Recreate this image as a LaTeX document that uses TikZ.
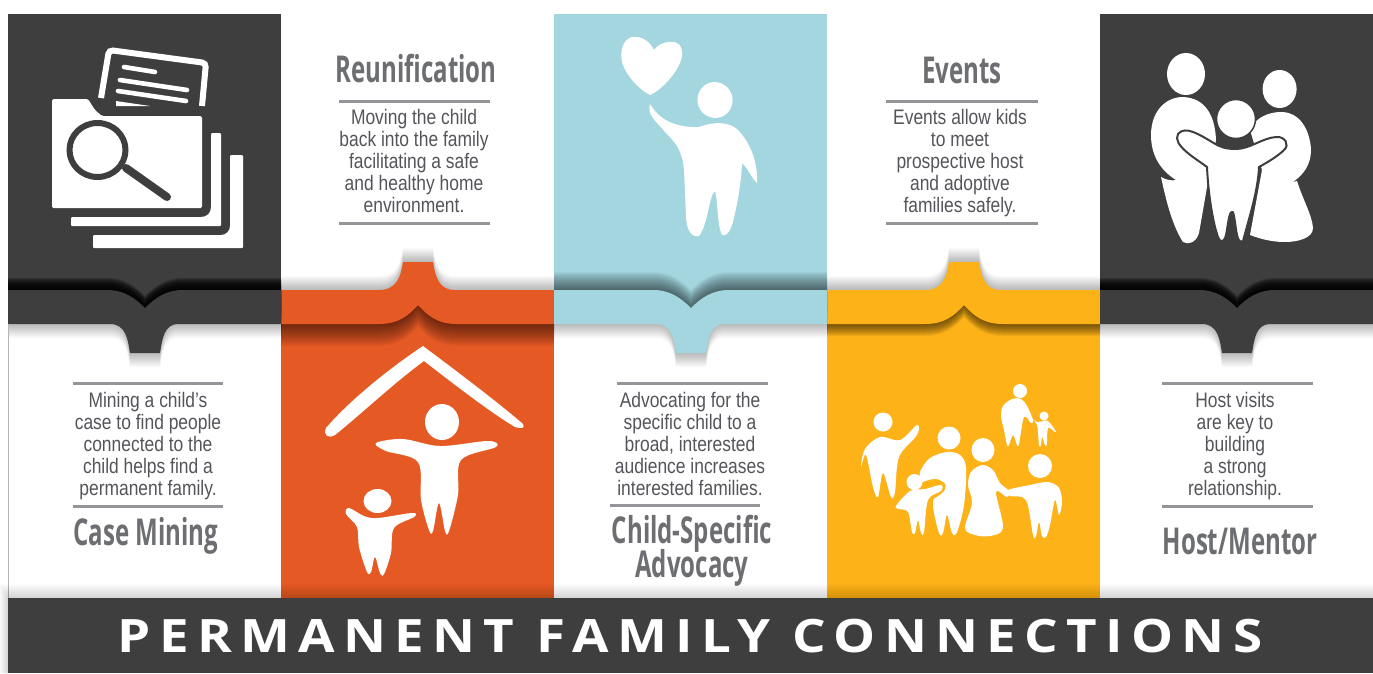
\documentclass[tikz,border=0pt]{standalone}
\usepackage{fontspec}
\setmainfont{Liberation Sans}
\newfontfamily\headfont[FakeStretch=0.65]{Open Sans}
\newfontfamily\bodyfont[FakeStretch=0.83]{Liberation Sans}
\newfontfamily\titlefont[LetterSpace=18,FakeStretch=1.15]{Open Sans}
\definecolor{darkc}{HTML}{3E3E3E}
\definecolor{orangec}{HTML}{E55A24}
\definecolor{tealc}{HTML}{A3D6DF}
\definecolor{yellowc}{HTML}{FDB218}
\definecolor{headc}{HTML}{6D6E71}
\definecolor{bodyc}{HTML}{54555A}
\definecolor{rulec}{HTML}{939598}
\tikzset{
  heading/.style={font=\headfont\bfseries\fontsize{37}{37}\selectfont,text=headc,inner sep=0pt,anchor=base,align=center},
  bodytext/.style={font=\bodyfont\fontsize{21}{22}\selectfont,text=bodyc,inner sep=0pt,align=center,anchor=north},
  rulefine/.style={rulec,line width=3pt},
  sm/.style={smooth cycle,tension=0.55}
}
% a soft shadow: copies of a shape, each moved a little further
\newcommand{\castshadow}[4]{% step sign, copies, opacity, closed path
  \foreach \k in {1,...,#2}{\fill[black,opacity=#3,shift={(0,#1*\k)}] #4;}}
\newcommand{\notchtop}{(0,290) -- (99,290) .. controls (116,290) and (127,298) .. (137,308) .. controls (147,298) and (158,290) .. (175,290) -- (273,290)}
\newcommand{\tabup}{(0,290) -- (98,290) .. controls (116,290) and (120,276) .. (122,262) -- (152,262) .. controls (154,276) and (158,290) .. (173,290) -- (273,290)}
\newcommand{\tabdown}{(273,324) -- (170,324) .. controls (156,324) and (154,340) .. (152,353) -- (122,353) .. controls (120,340) and (118,324) .. (102,324) -- (0,324)}
\newcommand{\notchlow}{(273,324) -- (176,324) .. controls (156,324) and (146,315) .. (137,305) .. controls (128,315) and (118,324) .. (98,324) -- (0,324)}
\newcommand{\tabupcol}[4]{% shift, colour, lower copies, opacity
  \begin{scope}[shift={(#1,0)}]
    \fill[#2] (0,300) rectangle (273,598);
    \begin{scope}\clip (0,235) rectangle (273,400);
      \castshadow{-1}{14}{0.02}{\tabup -- \notchlow -- cycle}
      \castshadow{1}{#3}{#4}{\tabup -- \notchlow -- cycle}
    \end{scope}
    \fill[#2] \tabup -- \notchlow -- cycle;
  \end{scope}}
\newcommand{\tabdncol}[4]{% shift, colour, upper copies, opacity
  \begin{scope}[shift={(#1,0)}]
    \fill[#2] (0,14) rectangle (273,312);
    \begin{scope}\clip (0,235) rectangle (273,400);
      \castshadow{-1}{#3}{#4}{\notchtop -- \tabdown -- cycle}
      \castshadow{1}{14}{0.02}{\notchtop -- \tabdown -- cycle}
    \end{scope}
    \fill[#2] \notchtop -- \tabdown -- cycle;
  \end{scope}}
\begin{document}
\begin{tikzpicture}[x=1pt,y=-1pt]
\useasboundingbox (0,0) rectangle (1373,673);
\fill[white] (0,0) rectangle (1373,673);
% columns
\tabupcol{281}{orangec}{22}{0.027}
\tabupcol{827}{yellowc}{12}{0.055}
\tabdncol{8}{darkc}{12}{0.2}
\tabdncol{554}{tealc}{18}{0.035}
\tabdncol{1100}{darkc}{12}{0.2}
\draw[rulec!70,line width=0.8pt] (8,324) -- (8,598);
% shadow round the bottom bar
\begin{scope}
  \clip (0,570) rectangle (1373,673);
  \foreach \k in {1,...,14}{\fill[black,opacity=0.012] ({8-\k*0.6},{598-\k}) rectangle (1373,673);}
\end{scope}
\fill[darkc] (8,598) rectangle (1373,673);
\node[font=\titlefont\bfseries\fontsize{46}{46}\selectfont,text=white,inner sep=0pt,anchor=base] (title) at (690,652) {PERMANENT FAMILY CONNECTIONS};
% headings
\node[heading] (h2) at (416,82) {Reunification};
\node[heading] (h4) at (962,83) {Events};
\node[heading] (h1) at (146,545) {Case Mining};
\node[heading] (h3a) at (692,543) {Child-Specific};
\node[heading] (h3b) at (692,577) {Advocacy};
\node[heading] (h5) at (1240,554) {Host/Mentor};
% rules
\draw[rulefine] (339,101) -- (490,101);
\draw[rulefine] (339,223) -- (490,223);
\draw[rulefine] (886,101) -- (1038,101);
\draw[rulefine] (886,223) -- (1038,223);
\draw[rulefine] (73,383) -- (223,383);
\draw[rulefine] (73,506) -- (223,506);
\draw[rulefine] (617,383) -- (768,383);
\draw[rulefine] (610,505) -- (760,505);
\draw[rulefine] (1162,383) -- (1313,383);
\draw[rulefine] (1162,506) -- (1313,506);
% body text
\node[bodytext] (b2) at (414,109) {Moving the child\\back into the family\\facilitating a safe\\and healthy home\\environment.};
\node[bodytext] (b4) at (960,109) {Events allow kids\\to meet\\prospective host\\and adoptive\\families safely.};
\node[bodytext] (b1) at (148,392) {Mining a child’s\\case to find people\\connected to the\\child helps find a\\permanent family.};
\node[bodytext] (b3) at (690,392) {Advocating for the\\specific child to a\\broad, interested\\audience increases\\interested families.};
\node[bodytext] (b5) at (1235,392) {Host visits\\are key to\\building\\a strong\\relationship.};
% ---------- folder icon
\fill[white,rounded corners=1.5pt] (52,99) -- (88,99) -- (95,110) -- (102,116) -- (202,116) -- (202,208) -- (52,208) -- cycle;
\fill[white,rounded corners=1pt] (211,133) -- (221,133) -- (221,226) -- (71,226) -- (71,217) -- (200,217) .. controls (207,217) and (211,213) .. (211,206) -- cycle;
\fill[white,rounded corners=1pt] (230,155) -- (243,155) -- (243,248) -- (93,248) -- (93,235) -- (220,235) .. controls (226,235) and (230,231) .. (230,225) -- cycle;
\draw[white,line width=6pt,rounded corners=4pt] (101,98) -- (109,50) -- (206,63) -- (202,106);
\draw[white,line width=4.6pt,line cap=round] (124,67) -- (155,72);
\draw[white,line width=4.6pt,line cap=round] (120,80) -- (187,90);
\draw[white,line width=4.6pt,line cap=round] (118,91) -- (186,101);
\fill[white] (116,101) -- (150,106) -- (116,106) -- cycle;
\draw[darkc,line width=6pt] (97.5,150) circle[x radius=28,y radius=27];
\draw[darkc,line width=8pt,line cap=round] (126,168) -- (167,197);
% ---------- heart and child
\fill[white] (654,50) .. controls (648,38) and (638,36) .. (632,37) .. controls (622,40) and (620,52) .. (622,62) .. controls (626,76) and (640,90) .. (650,95) .. controls (662,90) and (680,70) .. (682,56) .. controls (683,44) and (676,41) .. (670,42) .. controls (662,42) and (657,46) .. (654,50) -- cycle;
\fill[white,rotate around={20:(715,100)}] (715,100) ellipse[x radius=17.5,y radius=18];
\fill[white] (650,104) .. controls (656,114) and (668,128) .. (699,127) .. controls (715,121) and (730,122) .. (738,130) .. controls (752,145) and (758,165) .. (757,183) .. controls (750,176) and (748,168) .. (742,163) .. controls (741,185) and (737,205) .. (733,222) .. controls (730,232) and (726,237) .. (722,235) .. controls (717,225) and (718,200) .. (715,191) .. controls (709,195) and (708,225) .. (699,236) .. controls (692,238) and (686,230) .. (686,215) -- (684,170) .. controls (682,150) and (676,143) .. (665,132) .. controls (655,120) and (647,115) .. (650,104) -- cycle;
% ---------- family icon
\fill[white] (1186,74) ellipse[x radius=19,y radius=21];
\fill[white] (1279.6,89) ellipse[x radius=17,y radius=19];
\fill[white] (1183,97) .. controls (1205,98) and (1215,115) .. (1216,140) -- (1210,170) -- (1199,233) .. controls (1196,243) and (1188,245) .. (1183,242) .. controls (1172,225) and (1166,200) .. (1161,177) .. controls (1166,180) and (1172,181) .. (1176,180) .. controls (1160,170) and (1151,155) .. (1151,135) .. controls (1151,112) and (1165,97) .. (1183,97) -- cycle;
\fill[white] (1281,112) .. controls (1300,112) and (1310,130) .. (1311,150) .. controls (1311,165) and (1303,175) .. (1293,182) -- (1297,181) .. controls (1303,200) and (1312,215) .. (1313,228) .. controls (1313,238) and (1298,242) .. (1285,242) .. controls (1270,242) and (1258,238) .. (1250,235) -- (1262,170) -- (1250,130) .. controls (1255,118) and (1268,112) .. (1281,112) -- cycle;
\filldraw[white,draw=darkc,line width=2pt] (1178,134) .. controls (1185,125) and (1200,135) .. (1212,142) .. controls (1220,147) and (1225,149) .. (1236,149) .. controls (1250,149) and (1262,138) .. (1276,137) .. controls (1285,136) and (1290,145) .. (1284,150) .. controls (1278,156) and (1268,162) .. (1259,167) .. controls (1258,190) and (1250,215) .. (1243,241) .. controls (1240,243) and (1238,240) .. (1237,235) .. controls (1235,225) and (1234,210) .. (1232,212) .. controls (1229,212) and (1228,225) .. (1226,235) .. controls (1224,243) and (1220,243) .. (1218,237) .. controls (1212,220) and (1208,190) .. (1207,167) .. controls (1195,158) and (1172,145) .. (1178,134) -- cycle;
\filldraw[white,draw=darkc,line width=1.5pt] (1236,119) ellipse[x radius=19.5,y radius=19.5];
% ---------- roof with adult and child
\fill[white] (423,346) .. controls (455,370) and (495,400) .. (523,424) .. controls (525,428) and (522,429) .. (515,427) .. controls (490,412) and (455,385) .. (424,361) .. controls (395,382) and (360,415) .. (335,435) .. controls (328,439) and (323,435) .. (326,428) .. controls (350,400) and (390,368) .. (423,346) -- cycle;
\fill[white] (442,422) ellipse[x radius=17,y radius=18];
\fill[white] plot[sm] coordinates {(376,443) (403,439) (440,446) (488,441) (496,447) (461,460) (458,495) (449,531) (445,531) (439,503) (433,531) (429,530) (421,500) (418,462) (386,451)};
\fill[white] (377.5,501) ellipse[x radius=14,y radius=12];
\fill[white] plot[sm] coordinates {(349,508) (364,516) (378,518) (412,513) (414,517) (394,528) (391,553) (384,574) (380,573) (375,557) (371,572) (367,572) (359,547) (357,527) (346,514)};
% ---------- family group on yellow
\fill[white] (883,422) circle[radius=9.5];
\fill[white] plot[sm] coordinates {(917,425) (900,440) (880,437) (865,449) (861,467) (866,455) (873,487) (878,497) (883,473) (891,497) (895,492) (899,457) (917,435)};
\fill[white] (949,438) circle[radius=11.5];
\fill[white] plot[sm] coordinates {(947,452) (930,458) (920,472) (922,482) (934,490) (933,507) (939,533) (943,533) (947,515) (952,533) (957,532) (964,505) (966,468) (960,455)};
\fill[yellowc] plot[sm] coordinates {(920,484) (935,479) (945,484) (943,492) (930,500) (920,495)};
\fill[white] (914.5,482) circle[radius=8];
\fill[white] plot[sm] coordinates {(941,485) (925,489) (910,491) (896,506) (899,509) (908,512) (912,532) (915,533) (918,520) (921,533) (924,532) (928,500) (941,491)};
\fill[white] (983,450) ellipse[x radius=11.5,y radius=12];
\fill[white] plot[sm] coordinates {(982,465) (971,472) (968,485) (972,503) (965,528) (975,535) (990,536) (1003,528) (996,492) (1007,497) (1009,491) (1000,483) (993,470)};
\fill[white] (1040,466) circle[radius=12];
\fill[white] plot[sm] coordinates {(1008,490) (1030,485) (1048,482) (1059,488) (1062,502) (1059,515) (1055,500) (1050,525) (1046,537) (1042,536) (1039,522) (1036,536) (1033,535) (1026,500) (1010,496)};
\fill[white] (1020,391) circle[radius=7];
\fill[white] plot[sm] coordinates {(1012,399) (1003,406) (1001,416) (1004,430) (1007,445) (1009,445) (1013,435) (1017,445) (1019,444) (1024,417) (1031,423) (1033,420) (1027,406) (1021,399)};
\fill[white] (1044,416) circle[radius=4.5];
\fill[white] plot[sm] coordinates {(1031,418) (1037,425) (1039,445) (1041,445) (1042,437) (1045,445) (1047,444) (1048,428) (1055,432) (1055,430) (1048,421) (1043,421) (1037,422)};
\end{tikzpicture}
\end{document}
